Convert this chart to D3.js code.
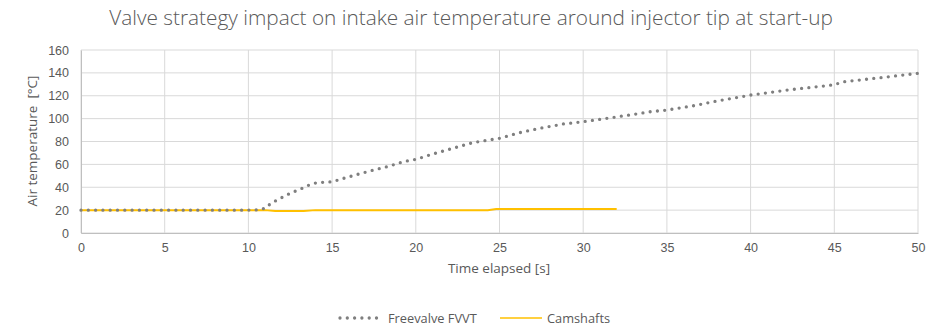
<!DOCTYPE html>
<html>
<head>
<meta charset="utf-8">
<script src="https://cdn.jsdelivr.net/npm/d3@7"></script>
<style>
  body { margin: 0; background: #fff; }
  svg { display: block; font-family: 'Open Sans', 'Liberation Sans', sans-serif; }
</style>
</head>
<body>
<div class="container"></div>
<script>
// Freevalve FVVT (time in s, temperature in °C)
const freeTime = [0, 1, 2, 3, 4, 5, 6, 7, 8, 9, 10, 10.6, 11, 11.3, 11.7, 12.5, 13.3, 13.7, 14.1, 15, 15.9, 17.1, 18.3, 19.25, 20, 21, 22.2, 23.4, 25, 26.2, 27.4, 28.8, 30, 31.4, 33, 34, 35, 36.5, 38, 39.4, 40, 42.2, 44.9, 45.6, 47.9, 50];
const freeTemp = [20, 20, 20, 20, 20, 20, 20, 20, 20, 20, 20, 20.2, 21.6, 25.3, 28.8, 34.7, 39.6, 42.5, 44, 44.8, 48.7, 53.6, 58, 62.3, 64.4, 69, 74, 79, 82.8, 87.7, 91.5, 95.3, 97.3, 100.2, 103.7, 106, 107.5, 111, 115.4, 119, 120.6, 125, 129.4, 132.3, 136, 139.6];

// Camshafts
const camTime = [0, 11, 11.6, 13.3, 14, 24.3, 24.8, 32];
const camTemp = [20, 20, 19.3, 19.3, 20, 20, 21, 21];

const xTicks = [0, 5, 10, 15, 20, 25, 30, 35, 40, 45, 50];
const yTicks = [0, 20, 40, 60, 80, 100, 120, 140, 160];

const width = 943;
const height = 327;
const margin = { left: 81, right: 25, top: 50, bottom: 94 };

const svg = d3
  .select('.container')
  .append('svg')
  .attr('width', width)
  .attr('height', height);

const xScale = d3.scaleLinear().domain([0, 50]).range([margin.left, width - margin.right]);
const yScale = d3.scaleLinear().domain([0, 160]).range([height - margin.bottom, margin.top]);

// grid
svg
  .append('g')
  .selectAll('line')
  .data(yTicks)
  .enter()
  .append('line')
  .attr('x1', xScale(0))
  .attr('x2', xScale(50))
  .attr('y1', (d) => yScale(d))
  .attr('y2', (d) => yScale(d))
  .attr('stroke', '#d9d9d9')
  .attr('stroke-width', 1);

svg
  .append('g')
  .selectAll('line')
  .data(xTicks)
  .enter()
  .append('line')
  .attr('x1', (d) => xScale(d))
  .attr('x2', (d) => xScale(d))
  .attr('y1', yScale(0))
  .attr('y2', yScale(160))
  .attr('stroke', '#d9d9d9')
  .attr('stroke-width', 1);

// axes
const xAxis = d3.axisBottom(xScale).tickValues(xTicks).tickSize(0).tickPadding(10);
const yAxis = d3.axisLeft(yScale).tickValues(yTicks).tickSize(0).tickPadding(12);

const gx = svg
  .append('g')
  .attr('transform', `translate(0,${yScale(0)})`)
  .call(xAxis);
const gy = svg
  .append('g')
  .attr('transform', `translate(${xScale(0)},0)`)
  .call(yAxis);

[gx, gy].forEach((g) => {
  g.select('.domain').attr('stroke', '#bfbfbf');
  g.selectAll('text').attr('fill', '#595959').style('font-size', '12.5px');
});

// lines
const line = d3
  .line()
  .x((d) => xScale(d[0]))
  .y((d) => yScale(d[1]));

svg
  .append('path')
  .datum(camTime.map((t, i) => [t, camTemp[i]]))
  .attr('d', line)
  .attr('fill', 'none')
  .attr('stroke', '#ffc000')
  .attr('stroke-width', 2);

svg
  .append('path')
  .datum(freeTime.map((t, i) => [t, freeTemp[i]]))
  .attr('d', line)
  .attr('fill', 'none')
  .attr('stroke', '#7f7f7f')
  .attr('stroke-width', 3.3)
  .attr('stroke-linecap', 'round')
  .attr('stroke-dasharray', '0,7.3');

// titles
svg
  .append('text')
  .attr('x', 471)
  .attr('y', 25)
  .attr('text-anchor', 'middle')
  .attr('fill', '#595959')
  .style('font-size', '20.8px')
  .style('font-weight', 300)
  .text('Valve strategy impact on intake air temperature around injector tip at start-up');

svg
  .append('text')
  .attr('transform', 'rotate(-90)')
  .attr('x', -141)
  .attr('y', 37)
  .attr('text-anchor', 'middle')
  .attr('fill', '#595959')
  .style('font-size', '13.5px')
  .text('Air temperature\u00a0\u00a0[°C]');

svg
  .append('text')
  .attr('x', 499)
  .attr('y', 273)
  .attr('text-anchor', 'middle')
  .attr('fill', '#595959')
  .style('font-size', '13.5px')
  .text('Time elapsed [s]');

// legend
const legend = svg.append('g');
legend
  .append('line')
  .attr('x1', 340)
  .attr('x2', 378)
  .attr('y1', 318)
  .attr('y2', 318)
  .attr('stroke', '#7f7f7f')
  .attr('stroke-width', 3.3)
  .attr('stroke-linecap', 'round')
  .attr('stroke-dasharray', '0,7.3');
legend
  .append('text')
  .attr('x', 388)
  .attr('y', 322.5)
  .attr('fill', '#595959')
  .style('font-size', '12.8px')
  .text('Freevalve FVVT');
legend
  .append('line')
  .attr('x1', 500)
  .attr('x2', 542)
  .attr('y1', 318)
  .attr('y2', 318)
  .attr('stroke', '#ffc000')
  .attr('stroke-width', 1.5);
legend
  .append('text')
  .attr('x', 547)
  .attr('y', 322.5)
  .attr('fill', '#595959')
  .style('font-size', '12.8px')
  .text('Camshafts');
</script>
</body>
</html>
